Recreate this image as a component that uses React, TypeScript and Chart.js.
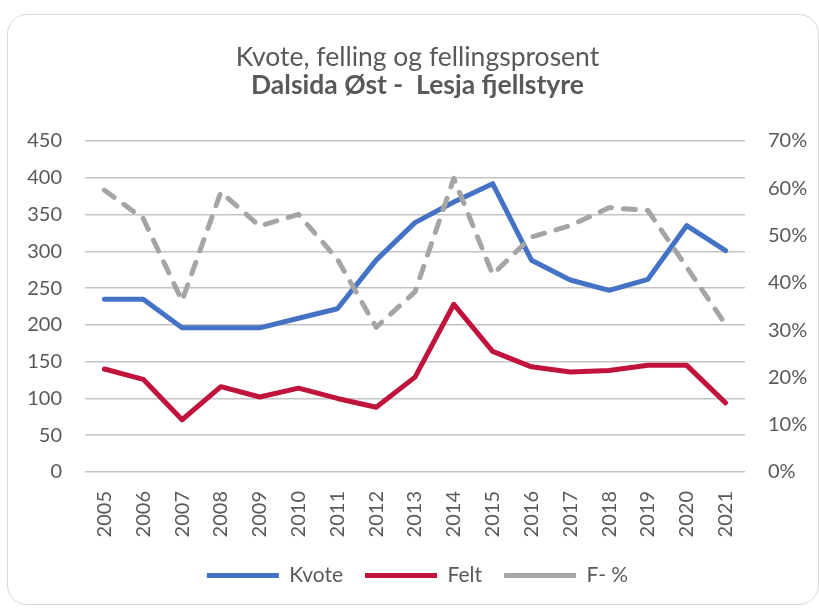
import React, { useEffect, useRef } from "react";
import { Chart, registerables } from "chart.js";

Chart.register(...registerables);

const years = ["2005","2006","2007","2008","2009","2010","2011","2012","2013","2014","2015","2016","2017","2018","2019","2020","2021"];
const kvote = [235, 235, 196, 196, 196, 209, 222, 288, 339, 367, 392, 288, 261, 247, 262, 335, 301];
const felt = [140, 126, 71, 116, 102, 114, 100, 88, 129, 228, 164, 143, 136, 138, 145, 145, 94];
const fPct = [59.6, 53.6, 36.2, 59.2, 52.0, 54.5, 45.0, 30.6, 38.1, 62.1, 41.8, 49.7, 52.1, 55.9, 55.3, 43.3, 31.2];

const leftTicks = [0, 450, 50];
const rightTicks = [0, 70, 10];

const TEXT = "#595959";
const GRID = "#c4c4c4";
const FONT = "Lato";

export default function App() {
  const ref = useRef<HTMLCanvasElement | null>(null);
  useEffect(() => {
    const canvas = ref.current;
    if (!canvas) return;
    const chart = new Chart(canvas, {
      type: "line",
      data: {
        labels: years,
        datasets: [
          { label: "Kvote", data: kvote, yAxisID: "y", borderColor: "#4472C4", backgroundColor: "#4472C4", borderWidth: 5, pointRadius: 0, tension: 0, borderJoinStyle: "round", borderCapStyle: "round", order: 2 },
          { label: "Felt", data: felt, yAxisID: "y", borderColor: "#C0143C", backgroundColor: "#C0143C", borderWidth: 5, pointRadius: 0, tension: 0, borderJoinStyle: "round", borderCapStyle: "round", order: 1 },
          { label: "F- %", data: fPct, yAxisID: "y1", borderColor: "#A5A5A5", backgroundColor: "#A5A5A5", borderWidth: 5, borderDash: [12, 12], pointRadius: 0, tension: 0, borderJoinStyle: "round", borderCapStyle: "round", order: 0 },
        ],
      },
      options: {
        responsive: false,
        devicePixelRatio: 1,
        animation: false,
        layout: { padding: { left: 16, right: 0, top: 0, bottom: 12 } },
        plugins: {
          tooltip: { enabled: false },
          title: {
            display: true,
            text: "Kvote, felling og fellingsprosent",
            color: TEXT,
            font: { family: FONT, size: 26.5, weight: "normal", lineHeight: 1.0 },
            padding: { top: 44, bottom: 0 },
          },
          subtitle: {
            display: true,
            text: "Dalsida Øst -  Lesja fjellstyre",
            color: TEXT,
            font: { family: FONT, size: 26.5, weight: "bold", lineHeight: 1.0 },
            padding: { top: 2, bottom: 42 },
          },
          legend: {
            position: "bottom",
            labels: {
              color: TEXT,
              font: { family: FONT, size: 21 },
              usePointStyle: true,
              pointStyle: "line",
              pointStyleWidth: 72,
              boxHeight: 21,
              padding: 22,
              sort: (a: any, b: any) => a.datasetIndex - b.datasetIndex,
            },
          },
        },
        scales: {
          x: {
            offset: true,
            grid: { display: false, drawTicks: false },
            border: { display: false },
            ticks: { color: TEXT, font: { family: FONT, size: 20 }, minRotation: 90, maxRotation: 90, padding: 19, autoSkip: false },
            afterFit: (s: any) => { s.height = 71; },
          },
          y: {
            position: "left",
            min: leftTicks[0],
            max: leftTicks[1],
            ticks: { stepSize: leftTicks[2], color: TEXT, font: { family: FONT, size: 20 }, padding: 23 },
            grid: { display: true, drawOnChartArea: true, color: GRID, lineWidth: 1.5, drawTicks: false },
            border: { display: false },
            afterFit: (s: any) => { s.width = 69; },
          },
          y1: {
            position: "right",
            min: rightTicks[0],
            max: rightTicks[1],
            ticks: { stepSize: rightTicks[2], color: TEXT, font: { family: FONT, size: 20 }, padding: 23, callback: (v: any) => v + "%" },
            grid: { display: false, drawTicks: false },
            border: { display: false },
            afterFit: (s: any) => { s.width = 74; },
          },
        },
      },
    });
    return () => chart.destroy();
  }, []);

  return (
    <div style={{ position: "fixed", left: 0, top: 0, width: 819, height: 608, background: "#fff", overflow: "hidden" }}>
      <div style={{ position: "absolute", left: 7, top: 14, width: 810, height: 589, border: "1.5px solid #d9d9d9", borderRadius: 20 }} />
      <canvas ref={ref} width={819} height={608} style={{ position: "absolute", left: 0, top: 0 }} />
    </div>
  );
}
